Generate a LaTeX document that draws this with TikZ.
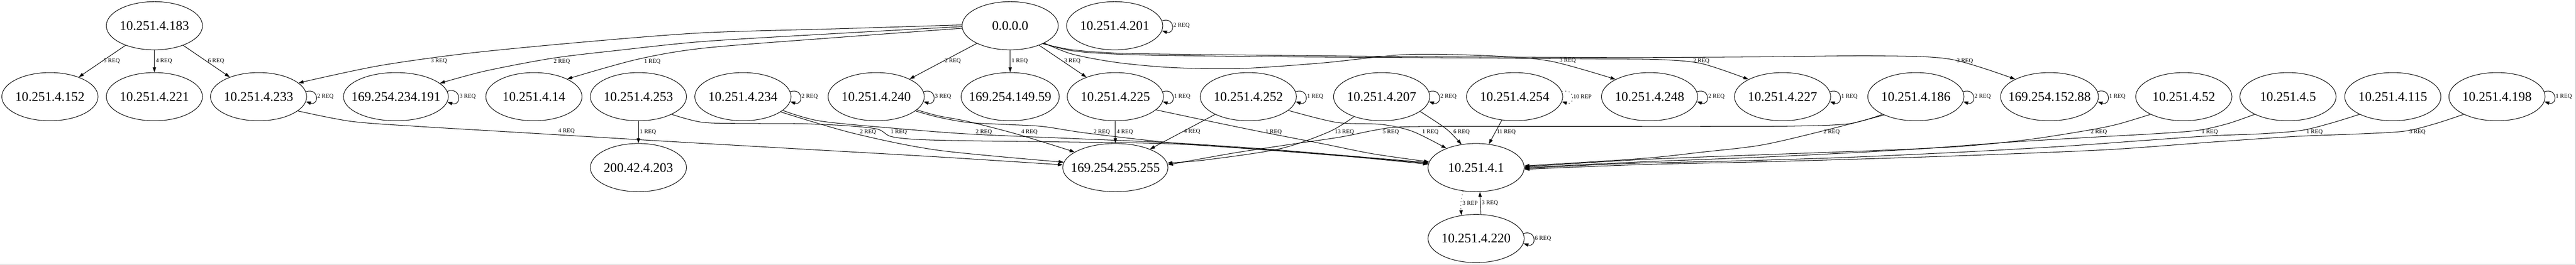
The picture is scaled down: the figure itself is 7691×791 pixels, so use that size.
\documentclass[tikz,border=0pt]{standalone}
\usepackage{fontspec}
\setmainfont{Liberation Serif}
\usetikzlibrary{arrows.meta, shapes.geometric}

\tikzset{
	host/.style={draw, ellipse, line width=0.45pt, minimum width=2.87cm, minimum height=1.44cm, inner xsep=-1cm, inner ysep=0pt, font=\fontsize{11.2}{13}\selectfont},
	req/.style={line width=0.45pt, -{Triangle[length=0.15cm, width=0.1cm]}},
	rep/.style={req, dash pattern=on 0.6pt off 2.4pt},
	lbl/.style={font=\fontsize{5}{6}\selectfont, inner sep=1pt, anchor=west},
	selfloop/.style={out=18, in=-18, looseness=3.6}
}

\begin{document}
\begin{tikzpicture}[x=0.01cm, y=0.01cm]
	\useasboundingbox (0,0) rectangle (7691,-791);
	
	% first rank
	\node[host] (n183) at (461,-77) {10.251.4.183};
	\node[host] (n0) at (3016,-77) {0.0.0.0};
	\node[host] (n201) at (3328,-77) {10.251.4.201};
	
	% second rank
	\node[host] (n152) at (149,-289) {10.251.4.152};
	\node[host] (n221) at (461,-289) {10.251.4.221};
	\node[host] (n233) at (772,-289) {10.251.4.233};
	\node[host, minimum width=3.13cm] (n191) at (1182,-289) {169.254.234.191};
	\node[host] (n14) at (1594,-289) {10.251.4.14};
	\node[host] (n253) at (1906,-289) {10.251.4.253};
	\node[host] (n234) at (2218,-289) {10.251.4.234};
	\node[host] (n240) at (2616,-289) {10.251.4.240};
	\node[host, minimum width=2.93cm] (n14959) at (3016,-289) {169.254.149.59};
	\node[host] (n225) at (3330,-289) {10.251.4.225};
	\node[host] (n252) at (3727,-289) {10.251.4.252};
	\node[host] (n207) at (4125,-289) {10.251.4.207};
	\node[host] (n254) at (4522,-289) {10.251.4.254};
	\node[host] (n248) at (4925,-289) {10.251.4.248};
	\node[host] (n227) at (5322,-289) {10.251.4.227};
	\node[host] (n186) at (5720,-289) {10.251.4.186};
	\node[host, minimum width=2.92cm] (n15288) at (6119,-289) {169.254.152.88};
	\node[host] (n52) at (6520,-289) {10.251.4.52};
	\node[host] (n5) at (6831,-289) {10.251.4.5};
	\node[host] (n115) at (7144,-289) {10.251.4.115};
	\node[host] (n198) at (7455,-289) {10.251.4.198};
	
	% third and fourth rank
	\node[host] (n203) at (1906,-501) {200.42.4.203};
	\node[host, minimum width=3.14cm] (n255) at (3330,-501) {169.254.255.255};
	\node[host] (n1) at (4407,-501) {10.251.4.1};
	\node[host] (n220) at (4407,-713) {10.251.4.220};
	
	% self loops
	\draw[req] (n201.6) to[selfloop] node[lbl] {2 REQ} (n201.-6);
	\draw[req] (n233.6) to[selfloop] node[lbl] {2 REQ} (n233.-6);
	\draw[req] (n191.6) to[selfloop] node[lbl] {3 REQ} (n191.-6);
	\draw[req] (n234.6) to[selfloop] node[lbl] {2 REQ} (n234.-6);
	\draw[req] (n240.6) to[selfloop] node[lbl] {3 REQ} (n240.-6);
	\draw[req] (n225.6) to[selfloop] node[lbl] {1 REQ} (n225.-6);
	\draw[req] (n252.6) to[selfloop] node[lbl] {1 REQ} (n252.-6);
	\draw[req] (n207.6) to[selfloop] node[lbl] {2 REQ} (n207.-6);
	\draw[rep] (n254.6) to[selfloop] node[lbl] {10 REP} (n254.-6);
	\draw[req] (n248.6) to[selfloop] node[lbl] {2 REQ} (n248.-6);
	\draw[req] (n227.6) to[selfloop] node[lbl] {1 REQ} (n227.-6);
	\draw[req] (n186.6) to[selfloop] node[lbl] {2 REQ} (n186.-6);
	\draw[req] (n15288.6) to[selfloop] node[lbl] {1 REQ} (n15288.-6);
	\draw[req] (n198.6) to[selfloop] node[lbl] {1 REQ} (n198.-6);
	\draw[req] (n220.6) to[selfloop] node[lbl] {6 REQ} (n220.-6);
	
	% from 10.251.4.183
	\draw[req] (n183) -- node[lbl] {5 REQ} (n152);
	\draw[req] (n183) -- node[lbl] {4 REQ} (n221);
	\draw[req] (n183) -- node[lbl] {6 REQ} (n233);
	
	% from 0.0.0.0
	\draw[req] plot[smooth] coordinates {(n0.179) (2500,-86) (2100,-98) (1750,-125) (1400,-159) (1129,-197) (n233.19)} node[lbl] at (1282,-183) {3 REQ};
	\draw[req] plot[smooth] coordinates {(n0.181) (2500,-100) (2100,-124) (1850,-150) (1650,-174) (1450,-212) (n191.17)} node[lbl] at (1649,-184) {2 REQ};
	\draw[req] plot[smooth] coordinates {(n0.183) (2500,-112) (2100,-144) (1900,-178) (n14.28)} node[lbl] at (1919,-184) {1 REQ};
	\draw[req] (n0) -- node[lbl] {2 REQ} (n240);
	\draw[req] (n0) -- node[lbl] {1 REQ} (n14959);
	\draw[req] (n0) -- node[lbl] {3 REQ} (n225);
	\draw[req] plot[smooth] coordinates {(n0.-27) (3202,-162) (3336,-187) (3500,-202) (3700,-205) (3950,-188) (4200,-163) (4450,-167) (4630,-183) (n248.153)} node[lbl] at (4652,-181) {3 REQ};
	\draw[req] plot[smooth] coordinates {(n0.-28) (3202,-152) (3336,-162) (3500,-166) (3850,-170) (4200,-172) (4500,-174) (4750,-176) (4950,-178) (5080,-190) (n227.153)} node[lbl] at (5051,-183) {2 REQ};
	\draw[req] plot[smooth] coordinates {(n0.-29) (3202,-149) (3336,-159) (3500,-162) (3850,-166) (4200,-169) (4550,-171) (4900,-172) (5250,-170) (5600,-167) (5823,-177) (n15288.153)} node[lbl] at (5838,-183) {3 REQ};
	
	% down to the third rank
	\draw[req] plot[smooth] coordinates {(n233.-20) (1050,-363) (1250,-378) (1450,-390) (1700,-405) (2000,-423) (2400,-446) (2800,-469) (n255.177)} node[lbl] at (1663,-392) {4 REQ};
	\draw[req] (n253) -- node[lbl] {1 REQ} (n203);
	\draw[req] plot[smooth] coordinates {(n253.-28) (2100,-366) (2250,-369) (2400,-370) (2530,-376) (2620,-386) (2660,-408) (2740,-417) (2900,-421) (3150,-424) (3500,-430) (3800,-450) (4050,-470) (n1.176)} node[lbl] at (2655,-394) {1 REQ};
	\draw[req] plot[smooth] coordinates {(n234.-22) (2546,-398) (2800,-449) (n255.174)} node[lbl] at (2563,-394) {2 REQ};
	\draw[req] plot[smooth] coordinates {(n234.-19) (2450,-362) (2700,-386) (2900,-401) (3200,-414) (3500,-427) (3800,-447) (4050,-468) (n1.174)} node[lbl] at (2909,-394) {2 REQ};
	\draw[req] plot[smooth] coordinates {(n240.-18) (2800,-346) (2889,-363) (3040,-402) (n255.159)} node[lbl] at (3045,-394) {4 REQ};
	\draw[req] plot[smooth] coordinates {(n240.-20) (2800,-350) (2889,-366) (3000,-372) (3112,-378) (3245,-398) (3500,-427) (3800,-449) (4050,-469) (n1.175)} node[lbl] at (3261,-394) {2 REQ};
	\draw[req] (n225) -- node[lbl] {4 REQ} (n255);
	\draw[req] plot[smooth] coordinates {(n225.-18) (3600,-360) (3765,-394) (3950,-430) (4100,-460) (n1.173)} node[lbl] at (3774,-394) {1 REQ};
	\draw[req] (n252) -- node[lbl] {4 REQ} (n255);
	\draw[req] plot[smooth] coordinates {(n252.-19) (3991,-366) (4125,-372) (4218,-393) (n1.147)} node[lbl] at (4242,-394) {1 REQ};
	\draw[req] plot[smooth] coordinates {(n207.-144) (3968,-394) (3820,-445) (3600,-478) (n255.5)} node[lbl] at (3981,-394) {13 REQ};
	\draw[req] plot[smooth] coordinates {(n207.-21) (4298,-371) (4328,-394) (n1.122)} node[lbl] at (4335,-394) {6 REQ};
	\draw[req] (n254) -- node[lbl] {11 REQ} (n1);
	\draw[req] plot[smooth] coordinates {(n186.-152) (5520,-370) (5350,-377) (5100,-378) (4800,-378) (4500,-378) (4300,-378) (4170,-380) (4100,-390) (4000,-410) (3850,-432) (3680,-458) (n255.3)} node[lbl] at (4124,-394) {5 REQ};
	\draw[req] plot[smooth] coordinates {(n186.-150) (5432,-394) (5257,-434) (5080,-455) (4900,-474) (n1.2)} node[lbl] at (5440,-394) {2 REQ};
	\draw[req] plot[smooth] coordinates {(n52.-152) (6320,-372) (6225,-391) (6050,-418) (5850,-438) (5600,-450) (5250,-463) (4900,-477) (n1.1)} node[lbl] at (6238,-394) {2 REQ};
	\draw[req] plot[smooth] coordinates {(n5.-152) (6650,-370) (6560,-390) (6430,-400) (6250,-410) (6000,-425) (5700,-447) (5300,-468) (4900,-484) (n1.0)} node[lbl] at (6569,-394) {1 REQ};
	\draw[req] plot[smooth] coordinates {(n115.-152) (6960,-368) (6870,-390) (6750,-400) (6600,-406) (6400,-420) (6150,-438) (5850,-455) (5500,-471) (5150,-482) (4850,-489) (n1.-1)} node[lbl] at (6882,-394) {1 REQ};
	\draw[req] plot[smooth] coordinates {(n198.-152) (7270,-370) (7180,-392) (7050,-400) (6850,-408) (6600,-425) (6300,-447) (5950,-462) (5600,-474) (5250,-484) (4900,-492) (n1.-2)} node[lbl] at (7189,-394) {3 REQ};
	
	% between 10.251.4.1 and 10.251.4.220
	\draw[rep] (n1.-119) to[bend right=10] node[lbl] {3 REP} (n220.122);
	\draw[req] (n220.79) -- node[lbl] {3 REQ} (n1.-81);
	
	% frame
	\draw[gray!50, line width=0.4pt] (0,-790.5) -- (7690.5,-790.5) -- (7690.5,0);
\end{tikzpicture}
\end{document}
